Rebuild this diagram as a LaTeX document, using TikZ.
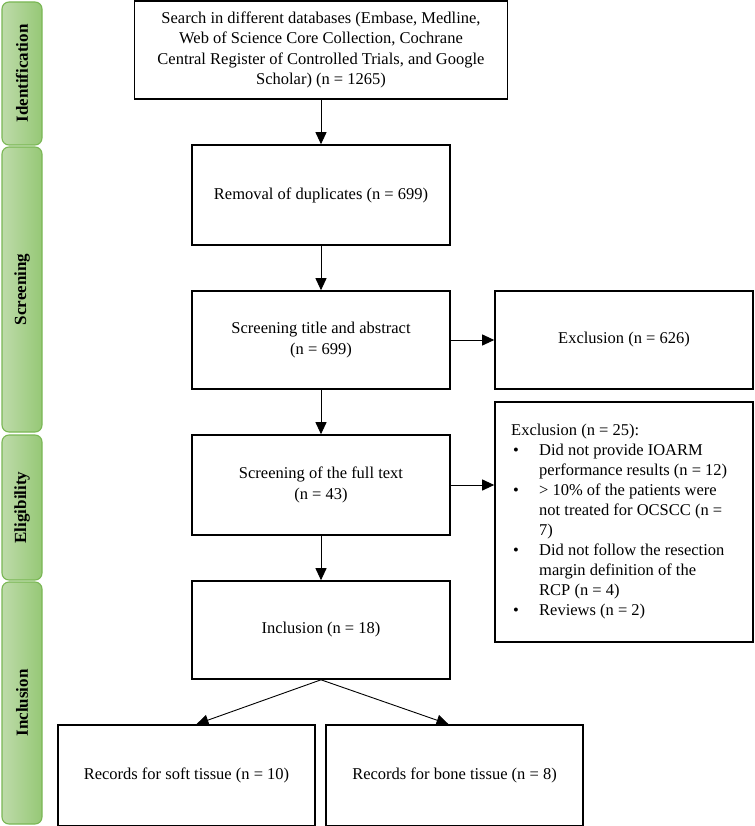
\documentclass[tikz,border=0pt]{standalone}
\usepackage{fontspec}
\setmainfont{Liberation Serif}
\usetikzlibrary{arrows.meta}
\definecolor{bandL}{RGB}{190,219,170}
\definecolor{bandR}{RGB}{150,200,118}
\definecolor{bandB}{RGB}{122,183,84}
\newcommand\bitem{\makebox[28pt][l]{\hspace{2pt}•}}
\newcommand\bind{\hspace*{28pt}}
\begin{document}
\begin{tikzpicture}[x=1pt,y=-1pt,
  box/.style={draw=black,line width=1.6pt,rectangle,inner sep=4pt,align=center,
    font=\fontsize{16.5}{20.5}\selectfont},
  arr/.style={line width=0.9pt,-{Triangle[length=12pt,width=11pt]}},
  band/.style={draw=bandB,line width=1.1pt,rounded corners=7pt,left color=bandL,right color=bandR},
  bandlabel/.style={rotate=90,font=\fontsize{17}{19}\selectfont\bfseries}
]
\useasboundingbox (0,0) rectangle (754,826);
% side bands
\draw[band] (2,2) rectangle (42,145);
\node[bandlabel] (lid) at (22,73.5) {Identification};
\draw[band] (2,147) rectangle (42,432);
\node[bandlabel] (lsc) at (22,289.5) {Screening};
\draw[band] (2,435) rectangle (42,580);
\node[bandlabel] (lel) at (22,507.5) {Eligibility};
\draw[band] (2,582) rectangle (42,824);
\node[bandlabel] (lin) at (22,703) {Inclusion};
% main boxes
\node[box,minimum width=373pt,minimum height=98pt] (search) at (321,50)
  {Search in different databases (Embase, Medline,\\Web of Science Core Collection, Cochrane\\Central Register of Controlled Trials, and Google\\Scholar) (n = 1265)};
\node[box,minimum width=258pt,minimum height=100pt] (dup) at (321,195)
  {Removal of duplicates (n = 699)};
\node[box,minimum width=258pt,minimum height=98pt] (scr) at (321,340)
  {Screening title and abstract\\(n = 699)};
\node[box,minimum width=258pt,minimum height=98pt] (ex1) at (624,340)
  {Exclusion (n = 626)};
\node[box,minimum width=258pt,minimum height=100pt] (full) at (321,485)
  {Screening of the full text\\(n = 43)};
\node[box,minimum width=258pt,minimum height=240pt] (ex2) at (624,522) {};
\node[font=\fontsize{16.5}{20}\selectfont,align=left,anchor=west,inner sep=0pt] (ex2t) at (511,522)
  {Exclusion (n = 25):\\
   \bitem Did not provide IOARM\\
   \bind performance results (n = 12)\\
   \bitem > 10\% of the patients were\\
   \bind not treated for OCSCC (n =\\
   \bind 7)\\
   \bitem Did not follow the resection\\
   \bind margin definition of the\\
   \bind RCP (n = 4)\\
   \bitem Reviews (n = 2)};
\node[box,minimum width=258pt,minimum height=98pt] (incl) at (321,630)
  {Inclusion (n = 18)};
\node[box,minimum width=257pt,minimum height=101pt] (soft) at (186.5,775.5)
  {Records for soft tissue (n = 10)};
\node[box,minimum width=257pt,minimum height=101pt] (bone) at (454.5,775.5)
  {Records for bone tissue (n = 8)};
% connectors
\draw[arr] (search.south) -- (dup.north);
\draw[arr] (dup.south) -- (scr.north);
\draw[arr] (scr.south) -- (full.north);
\draw[arr] (full.south) -- (incl.north);
\draw[arr] (scr.east) -- (ex1.west);
\draw[arr] (full.east) -- (ex2.west |- full.east);
\draw[arr] (incl.south) -- ([xshift=10pt]soft.north);
\draw[arr] (incl.south) -- ([xshift=-6pt]bone.north);
\end{tikzpicture}
\end{document}
